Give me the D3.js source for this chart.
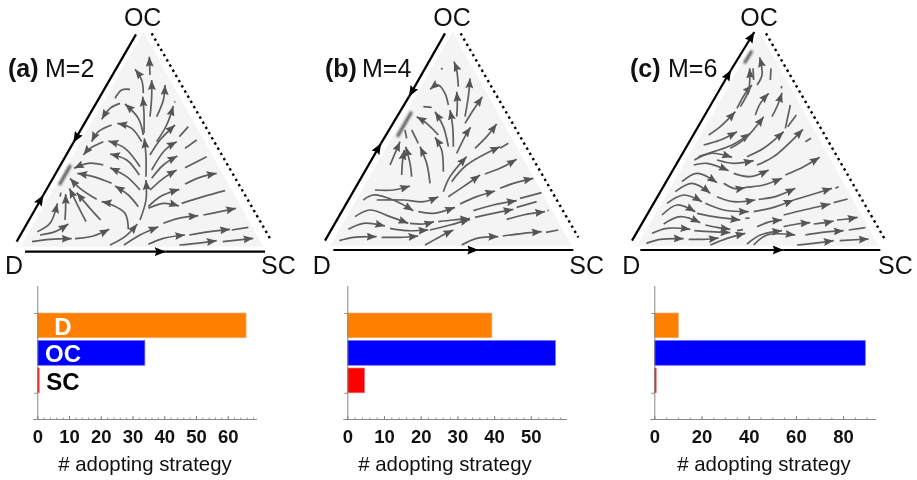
<!DOCTYPE html>
<html>
<head>
<meta charset="utf-8">
<script src="https://cdn.jsdelivr.net/npm/d3@7"></script>
<style>
  html, body { margin: 0; background: #fff; }
  svg { filter: blur(0.35px); }
  text { font-family: 'Liberation Sans', Arial, sans-serif; fill: #111; }
</style>
</head>
<body>
<script>
const strategies = ['D', 'OC', 'SC']
const barColors = ['#ff8000', '#0000ff', '#ff0000']
const barEdges = ['#f2b070', '#6a6af0', '#e07070']

const countsA = [65.8, 33.9, 0.6]
const countsB = [39.4, 56.7, 4.7]
const countsC = [10.2, 89.4, 0.8]

const ticksA = [0, 10, 20, 30, 40, 50, 60]
const ticksB = [0, 10, 20, 30, 40, 50]
const ticksC = [0, 20, 40, 60, 80]

const minorA = d3.range(0, 70, 2)
const minorB = d3.range(0, 60, 2)
const minorC = d3.range(0, 95, 5)

const titles = ['(a)', '(b)', '(c)']
const modes = ['M=2', 'M=4', 'M=6']

// triangle corners D, SC, OC on the 900x840 trace grid
const cornersA = [[62, 740], [790, 740], [430, 95]]
const cornersB = [[60, 738], [785, 738], [428, 95]]
const cornersC = [[60, 738], [785, 738], [428, 95]]

// flow lines, grid units, each ends in an arrowhead
const flowA = [
  [[96, 725], [150, 718], [215, 716]],
  [[225, 716], [280, 708], [328, 688]],
  [[120, 705], [165, 695], [205, 672]],
  [[112, 695], [150, 670], [172, 610]],
  [[195, 660], [197, 620], [197, 582]],
  [[258, 665], [235, 620], [208, 565]],
  [[302, 660], [270, 625], [230, 578]],
  [[385, 688], [375, 640], [330, 612], [305, 605]],
  [[290, 598], [240, 565], [210, 535]],
  [[415, 620], [385, 585], [345, 558]],
  [[335, 550], [280, 530], [232, 520]],
  [[420, 570], [380, 530], [330, 503]],
  [[310, 495], [265, 490], [222, 505]],
  [[418, 525], [380, 480], [330, 462]],
  [[420, 500], [375, 445], [325, 423]],
  [[310, 425], [270, 445], [250, 465]],
  [[425, 425], [395, 385], [352, 370]],
  [[335, 375], [295, 395], [275, 425]],
  [[430, 405], [415, 355], [375, 312]],
  [[360, 310], [330, 325], [305, 358]],
  [[330, 735], [375, 710], [412, 672]],
  [[420, 660], [438, 600], [438, 540]],
  [[438, 530], [438, 470], [433, 415]],
  [[432, 400], [432, 340], [428, 290]],
  [[430, 280], [425, 240], [405, 208]],
  [[450, 350], [455, 290], [455, 240]],
  [[450, 225], [448, 170]],
  [[470, 350], [490, 300], [495, 255]],
  [[470, 425], [500, 375], [520, 318]],
  [[450, 465], [480, 420], [525, 375]],
  [[455, 510], [495, 450], [530, 425]],
  [[455, 535], [490, 495], [532, 468]],
  [[450, 570], [490, 535], [530, 510]],
  [[445, 620], [480, 590], [538, 568]],
  [[555, 552], [600, 532], [650, 520]],
  [[445, 625], [490, 610], [537, 618]],
  [[372, 735], [420, 705], [475, 680]],
  [[490, 670], [535, 655], [595, 647]],
  [[610, 645], [660, 635], [708, 625]],
  [[445, 733], [490, 715], [555, 705]],
  [[568, 705], [630, 695], [690, 688]],
  [[538, 735], [590, 730], [650, 722]],
  [[668, 725], [760, 715]]
]
const stubsA = [
  [[180, 590], [183, 578]],
  [[390, 268], [365, 270], [345, 295]],
  [[538, 410], [565, 380]],
  [[555, 445], [590, 420]],
  [[555, 503], [620, 470]],
  [[545, 610], [610, 590], [675, 572]],
  [[695, 690], [745, 682]],
  [[525, 308], [524, 304]]
]

const flowB = [
  [[88, 722], [130, 712], [200, 710]],
  [[215, 712], [270, 712], [325, 708]],
  [[115, 688], [160, 670], [225, 678]],
  [[240, 685], [290, 692], [355, 690]],
  [[135, 650], [180, 630], [240, 650], [295, 670]],
  [[300, 670], [340, 672], [372, 665]],
  [[160, 600], [190, 585], [250, 600], [310, 632]],
  [[325, 635], [370, 640], [435, 622]],
  [[195, 570], [250, 570], [300, 558]],
  [[200, 600], [280, 600], [340, 605], [385, 590]],
  [[345, 735], [390, 710], [430, 690]],
  [[455, 735], [500, 715], [565, 710]],
  [[578, 708], [640, 700], [695, 695]],
  [[385, 665], [430, 660], [480, 656]],
  [[360, 690], [420, 675], [480, 658]],
  [[495, 652], [550, 640], [610, 628]],
  [[490, 632], [550, 615], [620, 602]],
  [[590, 658], [640, 645], [705, 635]],
  [[450, 612], [500, 590], [555, 573]],
  [[570, 565], [610, 550], [670, 535]],
  [[415, 590], [460, 560], [510, 525]],
  [[525, 522], [570, 505], [620, 478]],
  [[425, 545], [470, 495], [570, 440]],
  [[495, 445], [530, 410], [560, 372]],
  [[400, 575], [420, 530], [470, 470]],
  [[440, 460], [470, 400], [482, 382]],
  [[465, 370], [490, 330], [517, 290]],
  [[430, 440], [428, 380], [420, 330]],
  [[440, 350], [442, 310], [440, 275]],
  [[445, 260], [440, 210], [432, 185]],
  [[465, 350], [475, 290], [480, 235]],
  [[400, 515], [395, 450], [375, 412]],
  [[415, 440], [400, 380], [375, 335]],
  [[415, 315], [405, 280], [385, 255], [360, 268]],
  [[360, 550], [350, 490], [330, 440]],
  [[305, 530], [300, 490], [287, 440]],
  [[275, 525], [278, 480], [283, 450]],
  [[240, 495], [255, 460], [270, 425]],
  [[385, 405], [350, 370], [320, 350]]
]
const stubsB = [
  [[708, 697], [745, 690]],
  [[630, 595], [695, 578]],
  [[620, 622], [680, 605]],
  [[570, 445], [595, 430]],
  [[365, 322], [340, 320]],
  [[393, 208], [398, 205]],
  [[325, 430], [305, 390]],
  [[290, 415], [285, 390]],
  [[712, 632], [716, 631]]
]

const flowC = [
  [[88, 730], [130, 718], [200, 716]],
  [[215, 718], [260, 718], [305, 714]],
  [[105, 700], [150, 685], [220, 688]],
  [[232, 692], [280, 695], [340, 698]],
  [[140, 672], [190, 650], [250, 668]],
  [[265, 675], [300, 682], [340, 688]],
  [[135, 645], [180, 615], [235, 635]],
  [[240, 640], [290, 650], [370, 660]],
  [[150, 610], [200, 585], [255, 605]],
  [[265, 610], [320, 630], [395, 635]],
  [[175, 575], [225, 550], [280, 580]],
  [[300, 590], [350, 605], [415, 600]],
  [[195, 545], [240, 520], [300, 548]],
  [[320, 550], [350, 565], [385, 563]],
  [[385, 562], [440, 555], [495, 535]],
  [[230, 495], [270, 490], [335, 512]],
  [[350, 520], [400, 530], [455, 510]],
  [[232, 480], [280, 460], [345, 472]],
  [[300, 480], [350, 490], [410, 482]],
  [[260, 435], [310, 420], [360, 395]],
  [[245, 470], [290, 455], [345, 435], [400, 400]],
  [[275, 405], [310, 380], [355, 335]],
  [[360, 325], [385, 280], [405, 255]],
  [[370, 320], [395, 270], [398, 205]],
  [[420, 255], [435, 225], [428, 172]],
  [[340, 445], [385, 415], [440, 350]],
  [[415, 345], [430, 310], [455, 280]],
  [[465, 350], [482, 315], [495, 278]],
  [[390, 470], [440, 445], [500, 395]],
  [[420, 495], [470, 470], [558, 388]],
  [[505, 525], [560, 500], [608, 472]],
  [[425, 598], [475, 590], [535, 565]],
  [[410, 635], [470, 622], [530, 600]],
  [[530, 600], [590, 582], [645, 565]],
  [[500, 645], [560, 630], [640, 612]],
  [[540, 735], [590, 730], [650, 722]],
  [[668, 722], [755, 717]],
  [[410, 735], [450, 705], [535, 705]],
  [[565, 705], [610, 698], [680, 692]],
  [[500, 680], [540, 672], [580, 668]],
  [[590, 672], [625, 668], [650, 663]],
  [[660, 660], [690, 657], [722, 652]],
  [[280, 735], [330, 715], [385, 700]],
  [[390, 732], [430, 705], [495, 692]],
  [[420, 680], [460, 665], [495, 660]]
]
const stubsC = [
  [[410, 240], [408, 205]],
  [[460, 240], [462, 205]],
  [[493, 265], [494, 258]],
  [[505, 385], [520, 315]],
  [[512, 380], [538, 345]],
  [[565, 425], [582, 415]],
  [[650, 608], [692, 597]],
  [[655, 565], [665, 560]],
  [[695, 690], [745, 683]],
  [[385, 655], [398, 654]],
  [[360, 692], [378, 689]]
]

// edges of the triangle: arrowed pieces, plain pieces and the dotted side
const edgeArrowsA = [[[50, 725], [130, 585]], [[408, 103], [220, 428]], [[75, 755], [497, 755]]]
const edgePlainA = [[[130, 585], [220, 428]], [[497, 755], [795, 755]]]
const dottedA = [[455, 100], [810, 715]]

const edgeArrowsB = [[[45, 722], [213, 430]], [[405, 100], [297, 290]], [[70, 750], [505, 750]]]
const edgePlainB = [[[213, 430], [297, 290]], [[505, 750], [790, 750]]]
const dottedB = [[452, 100], [805, 712]]

const edgeArrowsC = [[[45, 722], [342, 210]], [[342, 210], [412, 96]], [[70, 750], [500, 750]]]
const edgePlainC = [[[500, 750], [790, 750]]]
const dottedC = [[447, 100], [802, 715]]

// stable point on the left side of each triangle (stretched grey smear)
const smearA = [[178, 555], [212, 495]]
const smearB = [[262, 410], [305, 335]]
const smearC = [[382, 190], [405, 152]]

const panels = [
  { left: 0, corners: cornersA, flow: flowA, stubs: stubsA, edgeArrows: edgeArrowsA, edgePlain: edgePlainA, dotted: dottedA, smear: smearA, counts: countsA, ticks: ticksA, minor: minorA, pxPerUnit: 3.173, titleX: 8, modeX: 45, axisEnd: 257, labelX: 145, dShift: -20, scShift: 45 },
  { left: 310, corners: cornersB, flow: flowB, stubs: stubsB, edgeArrows: edgeArrowsB, edgePlain: edgePlainB, dotted: dottedB, smear: smearB, counts: countsB, ticks: ticksB, minor: minorB, pxPerUnit: 3.67, titleX: 325, modeX: 362, axisEnd: 567, labelX: 445, dShift: -25, scShift: 45 },
  { left: 617, corners: cornersC, flow: flowC, stubs: stubsC, edgeArrows: edgeArrowsC, edgePlain: edgePlainC, dotted: dottedC, smear: smearC, counts: countsC, ticks: ticksC, minor: minorC, pxPerUnit: 2.36, titleX: 630, modeX: 668, axisEnd: 876, labelX: 764, dShift: -17, scShift: 50 }
]

const svg = d3.select('body').append('svg')
  .attr('width', 917)
  .attr('height', 480)
  .style('display', 'block')

const defs = svg.append('defs')

defs.append('filter').attr('id', 'soft')
  .attr('filterUnits', 'userSpaceOnUse')
  .attr('x', 0).attr('y', 0).attr('width', 917).attr('height', 480)
  .append('feGaussianBlur').attr('stdDeviation', 1.3)

function addArrow(id, color, w, h) {
  defs.append('marker')
    .attr('id', id)
    .attr('viewBox', `0 0 ${w} ${h}`)
    .attr('refX', w)
    .attr('refY', h / 2)
    .attr('markerUnits', 'userSpaceOnUse')
    .attr('markerWidth', w)
    .attr('markerHeight', h)
    .attr('orient', 'auto')
    .append('path')
    .attr('d', `M0,0L${w},${h / 2}L0,${h}L${w * 0.15},${h / 2}Z`)
    .attr('fill', color)
}
addArrow('flow-head', '#555', 10, 8)
addArrow('edge-head', '#000', 11, 9)

panels.forEach((p, i) => {
  const x = d3.scaleLinear().domain([0, 900]).range([p.left, p.left + 300])
  const y = d3.scaleLinear().domain([0, 840]).range([0, 280])
  const g = svg.append('g')

  const straight = d3.line().x(d => x(d[0])).y(d => y(d[1]))
  const curved = d3.line().x(d => x(d[0])).y(d => y(d[1])).curve(d3.curveCatmullRom.alpha(0.5))

  g.append('path')
    .attr('d', straight(p.corners) + 'Z')
    .attr('fill', '#f4f4f4')

  g.append('path')
    .attr('d', straight(p.smear))
    .attr('stroke', '#555')
    .attr('stroke-width', 3)
    .attr('filter', 'url(#soft)')

  g.selectAll('.stub')
    .data(p.stubs)
    .enter()
    .append('path')
    .attr('class', 'stub')
    .attr('d', curved)
    .attr('fill', 'none')
    .attr('stroke', '#5f5f5f')
    .attr('stroke-width', 1.7)

  g.selectAll('.flow')
    .data(p.flow)
    .enter()
    .append('path')
    .attr('class', 'flow')
    .attr('d', curved)
    .attr('fill', 'none')
    .attr('stroke', '#5f5f5f')
    .attr('stroke-width', 1.7)
    .attr('marker-end', 'url(#flow-head)')

  g.selectAll('.edge-plain')
    .data(p.edgePlain)
    .enter()
    .append('path')
    .attr('class', 'edge-plain')
    .attr('d', straight)
    .attr('stroke', '#000')
    .attr('stroke-width', 2.2)

  g.selectAll('.edge-arrow')
    .data(p.edgeArrows)
    .enter()
    .append('path')
    .attr('class', 'edge-arrow')
    .attr('d', straight)
    .attr('stroke', '#000')
    .attr('stroke-width', 2.2)
    .attr('marker-end', 'url(#edge-head)')

  g.append('path')
    .attr('d', straight(p.dotted))
    .attr('stroke', '#000')
    .attr('stroke-width', 2.4)
    .attr('stroke-dasharray', '2.4 3.6')

  // corner labels
  const cornerLabels = [
    { text: 'D', at: [p.corners[0][0] + p.dShift, 822] },
    { text: 'SC', at: [p.corners[1][0] + p.scShift, 822] },
    { text: 'OC', at: [p.corners[2][0] - 2, 77] }
  ]
  g.selectAll('.corner')
    .data(cornerLabels)
    .enter()
    .append('text')
    .attr('class', 'corner')
    .text(d => d.text)
    .attr('x', d => x(d.at[0]))
    .attr('y', d => y(d.at[1]))
    .attr('text-anchor', 'middle')
    .style('font-size', '25px')

  g.append('text')
    .text(titles[i])
    .attr('x', p.titleX)
    .attr('y', 77)
    .attr('font-weight', 700)
    .style('font-size', '25px')

  g.append('text')
    .text(modes[i])
    .attr('x', p.modeX)
    .attr('y', 77)
    .style('font-size', '25px')

  // bars
  const zero = p.left + 37.3
  const bx = d3.scaleLinear().domain([0, 1]).range([zero, zero + p.pxPerUnit])
  const by = d3.scaleBand().domain(strategies).range([313, 392.8]).paddingInner(0.1)
  const baseY = 419

  g.selectAll('.bar')
    .data(strategies)
    .enter()
    .append('rect')
    .attr('class', 'bar')
    .attr('x', zero)
    .attr('y', d => by(d))
    .attr('width', (d, j) => bx(p.counts[j]) - zero)
    .attr('height', by.bandwidth())
    .attr('fill', (d, j) => barColors[j])
    .attr('stroke', (d, j) => barEdges[j])
    .attr('stroke-width', 0.7)

  const minorAxis = d3.axisTop(bx)
    .tickValues(p.minor)
    .tickSize(1.5)
    .tickFormat('')
  g.append('g')
    .attr('transform', `translate(0,${baseY})`)
    .call(minorAxis)
    .call(a => a.select('.domain').remove())
    .call(a => a.selectAll('line').attr('stroke', '#999'))

  const majorAxis = d3.axisBottom(bx)
    .tickValues(p.ticks)
    .tickSize(-3)
    .tickPadding(11)
    .tickFormat(d3.format('d'))
  g.append('g')
    .attr('transform', `translate(0,${baseY})`)
    .call(majorAxis)
    .call(a => a.select('.domain')
      .attr('d', `M${zero - 4},0.5H${p.axisEnd}`)
      .attr('stroke', '#888'))
    .call(a => a.selectAll('line').attr('stroke', '#888'))
    .call(a => a.selectAll('text')
      .attr('font-weight', 700)
      .style('font-size', '18.5px')
      .attr('fill', '#111'))

  const leftScale = d3.scaleLinear().domain([0, 1]).range([313, 392.8])
  const leftAxis = d3.axisLeft(leftScale).tickValues([0, 1]).tickSize(3).tickFormat('')
  g.append('g')
    .attr('transform', `translate(${zero},0)`)
    .call(leftAxis)
    .call(a => a.select('.domain').attr('d', `M0.5,286V${baseY}`).attr('stroke', '#888'))
    .call(a => a.selectAll('line').attr('stroke', '#888'))

  g.append('text')
    .text('# adopting strategy')
    .attr('x', p.labelX)
    .attr('y', 471)
    .attr('text-anchor', 'middle')
    .style('font-size', '20.4px')
})

// strategy names sit inside the bars of the first panel only
const barNames = [
  { text: 'D', y: 335, color: '#fff', x: 63 },
  { text: 'OC', y: 362, color: '#fff', x: 63 },
  { text: 'SC', y: 390, color: '#000', x: 63 }
]
svg.selectAll('.bar-name')
  .data(barNames)
  .enter()
  .append('text')
  .attr('class', 'bar-name')
  .text(d => d.text)
  .attr('x', d => d.x)
  .attr('y', d => d.y)
  .attr('text-anchor', 'middle')
  .attr('font-weight', 700)
  .style('fill', d => d.color)
  .style('font-size', '24px')
</script>
</body>
</html>
